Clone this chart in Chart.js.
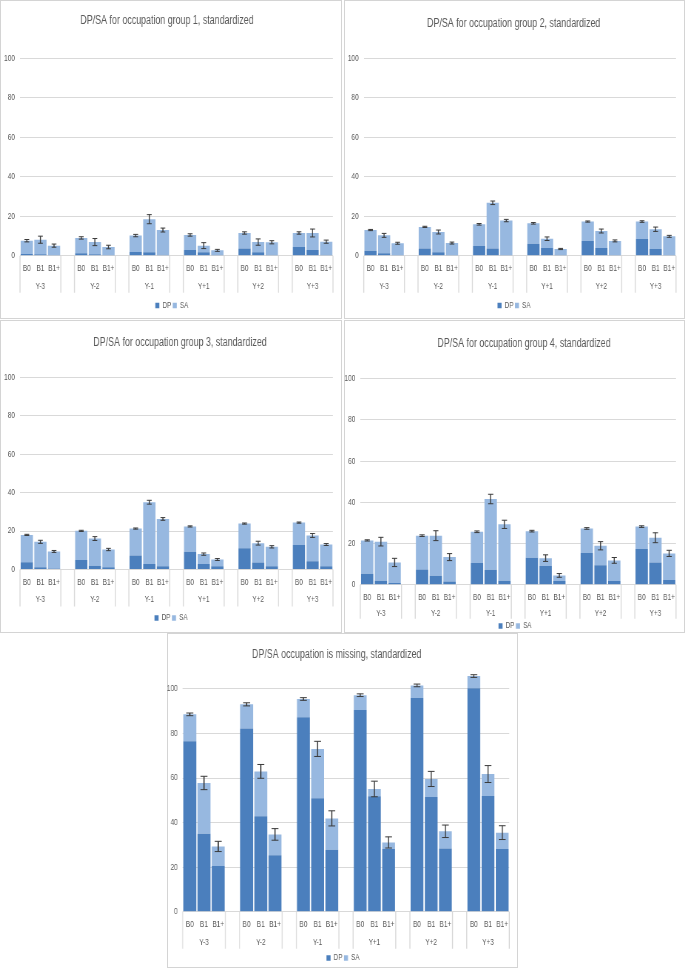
<!DOCTYPE html>
<html><head><meta charset="utf-8">
<script src="https://cdn.jsdelivr.net/npm/chart.js@4.4.0/dist/chart.umd.min.js"></script>
<style>
html,body{margin:0;padding:0;background:#fff;}
body{width:685px;height:968px;position:relative;overflow:hidden;}
.frame{position:absolute;box-sizing:border-box;border:1px solid #d4d4d4;background:#fff;}
canvas{position:absolute;transform-origin:0 0;}
</style></head><body>
<script>
// ---- categories / labels ----
const years = ['Y-3','Y-2','Y-1','Y+1','Y+2','Y+3'];
const bars = ['B0','B1','B1+'];
const seriesNames = ['DP','SA'];
const yTicks = [0,20,40,60,80,100];
const titles = [
  'DP/SA for occupation group 1, standardized',
  'DP/SA for occupation group 2, standardized',
  'DP/SA for occupation group 3, standardized',
  'DP/SA for occupation group 4, standardized',
  'DP/SA occupation is missing, standardized'
];

// ---- values (order: Y-3 B0,B1,B1+, Y-2 B0,B1,B1+, ...) ----
const g1DP  = [0.8,0.7,0.3, 1.2,0.7,0.3, 1.9,1.7,0.5, 2.9,1.7,0.5, 3.6,1.7,0.5, 4.4,2.9,0.5];
const g1SA  = [6.8,7.4,4.8, 7.8,6.2,4.1, 8.3,16.8,12.5, 7.6,3.4,2.2, 7.9,5.2,6.3, 7.1,8.6,6.6];
const g1Err = [0.6,1.8,0.8, 0.6,1.8,0.9, 0.6,2.3,1.0, 0.6,1.5,0.5, 0.6,1.6,0.8, 0.6,2.0,0.8];

const g2DP  = [2.5,1.2,0.3, 3.6,1.7,0.3, 4.9,3.6,0.3, 6.1,3.9,0.5, 7.5,3.9,0.4, 8.5,3.4,0.4];
const g2SA  = [10.5,9.1,6.0, 11.0,10.3,6.1, 11.0,23.2,17.5, 10.3,4.7,2.9, 9.8,8.6,7.1, 8.8,10.0,9.4];
const g2Err = [0.3,1.0,0.5, 0.3,1.0,0.5, 0.4,0.9,0.6, 0.4,0.9,0.3, 0.3,1.0,0.5, 0.4,1.1,0.5];

const g3DP  = [3.8,1.2,0.5, 5.0,1.9,1.2, 7.3,2.9,1.7, 9.2,2.9,1.7, 11.1,3.6,1.7, 12.8,4.3,1.7];
const g3SA  = [14.2,13.2,8.9, 15.1,14.2,9.2, 14.0,32.1,24.6, 13.2,5.1,3.5, 12.8,10.1,10.1, 11.6,13.4,11.3];
const g3Err = [0.3,0.8,0.5, 0.3,1.0,0.6, 0.3,1.0,0.7, 0.3,0.6,0.5, 0.3,1.0,0.6, 0.3,1.0,0.5];

const g4DP  = [5.3,1.9,0.8, 7.4,4.4,1.5, 10.5,7.3,1.9, 13.1,9.1,1.8, 15.4,9.5,1.8, 17.3,10.8,2.3];
const g4SA  = [16.2,19.0,10.0, 16.4,19.4,11.9, 15.2,34.3,27.4, 12.9,3.8,2.7, 11.9,9.4,10.0, 10.9,12.0,12.9];
const g4Err = [0.3,2.1,2.0, 0.4,2.4,1.7, 0.4,2.3,2.0, 0.4,1.6,0.9, 0.4,2.0,1.4, 0.4,2.4,1.5];

const g5DP  = [76.5,35.0,20.5, 82.3,42.8,25.3, 87.3,50.9,27.8, 90.6,51.8,28.1, 96.0,51.5,28.4, 100.3,51.9,28.1];
const g5SA  = [12.1,22.8,8.8, 10.8,20.2,9.4, 8.2,22.2,14.1, 6.6,3.3,3.0, 5.6,8.1,7.7, 5.5,9.9,7.4];
const g5Err = [0.6,3.0,2.3, 0.7,3.1,2.6, 0.6,3.4,3.4, 0.6,3.5,2.5, 0.6,3.4,2.8, 0.6,3.8,3.1];

// ---- styling ----
const DP_COLOR = '#4b7fbd';
const SA_COLOR = '#97b8e0';
const TEXT = '#595959';
const GRID = '#d9d9d9';
const FONT = "'Liberation Sans', Arial, sans-serif";
const SQUEEZE = 0.74;

Chart.defaults.font.family = FONT;
Chart.defaults.color = TEXT;

// insert an empty slot between year groups
function slots(arr) {
  const out = [];
  for (let g = 0; g < years.length; g++) {
    if (g > 0) out.push(null);
    for (let b = 0; b < bars.length; b++) out.push(arr[g * bars.length + b]);
  }
  return out;
}
const slotLabels = slots(years.flatMap(() => bars)).map(v => v === null ? '' : v);

const panels = [
  {title: titles[0], dp: g1DP, sa: g1SA, err: g1Err, max: 100, x: 0,   y: 0,   w: 342, h: 319, L: 20,   R: 333,   T: 58.3, B: 255.7, tx: 167,   ty: 21,   lx: 171.8, ly: 305.5, gy: 30.5, sep: 37, cap: 2.4},
  {title: titles[1], dp: g2DP, sa: g2SA, err: g2Err, max: 100, x: 344, y: 0,   w: 341, h: 319, L: 19.7, R: 332,   T: 58.3, B: 255.7, tx: 169.7, ty: 24,   lx: 170,   ly: 305.5, gy: 30.5, sep: 37, cap: 2.4},
  {title: titles[2], dp: g3DP, sa: g3SA, err: g3Err, max: 100, x: 0,   y: 320, w: 342, h: 313, L: 20,   R: 333,   T: 57.3, B: 249.5, tx: 180,   ty: 23,   lx: 171,   ly: 298,   gy: 30.5, sep: 37, cap: 2.4},
  {title: titles[3], dp: g4DP, sa: g4SA, err: g4Err, max: 100, x: 344, y: 320, w: 341, h: 313, L: 16.3, R: 332,   T: 58.7, B: 264.7, tx: 180,   ty: 23.7, lx: 171,   ly: 306,   gy: 29,   sep: 34, cap: 2.6},
  {title: titles[4], dp: g5DP, sa: g5SA, err: g5Err, max: 110, x: 167, y: 633, w: 351, h: 335, L: 15.7, R: 342.3, T: 33.7, B: 278.7, tx: 169.7, ty: 22,   lx: 176,   ly: 325,   gy: 31,   sep: 37, cap: 3.4}
];

panels.forEach((p, idx) => {
  const frame = document.createElement('div');
  frame.className = 'frame';
  frame.style.left = p.x + 'px'; frame.style.top = p.y + 'px';
  frame.style.width = p.w + 'px'; frame.style.height = p.h + 'px';
  document.body.appendChild(frame);

  const cw = Math.round(p.w / SQUEEZE);
  const s = p.w / cw;
  const cv = document.createElement('canvas');
  cv.width = cw; cv.height = p.h;
  cv.style.left = p.x + 'px'; cv.style.top = p.y + 'px';
  cv.style.width = cw + 'px'; cv.style.height = p.h + 'px';
  cv.style.transform = 'scaleX(' + s + ')';
  document.body.appendChild(cv);

  const LEG_H = 12, LEG_PAD = 2, LEG_FONT = 8.5;

  const deco = {
    id: 'deco' + idx,
    afterLayout(chart) {
      const tb = chart.titleBlock;
      if (tb) {
        const tw = tb.right - tb.left, th = tb.bottom - tb.top;
        tb.left = p.tx / s - tw / 2; tb.right = tb.left + tw;
        tb.top = p.ty - 7.2; tb.bottom = tb.top + th;
      }
      const lg = chart.legend;
      if (lg) {
        const lw = lg.right - lg.left;
        lg.left = p.lx / s - lw / 2; lg.right = lg.left + lw;
        lg.top = p.ly - LEG_PAD - LEG_FONT / 2; lg.bottom = lg.top + LEG_H;
      }
    },
    afterDatasetsDraw(chart) {
      const ctx = chart.ctx, xs = chart.scales.x, ys = chart.scales.y;
      const dpS = slots(p.dp), saS = slots(p.sa), erS = slots(p.err);
      ctx.save();
      ctx.strokeStyle = '#3a3a3a';
      for (let i = 0; i < dpS.length; i++) {
        if (dpS[i] === null) continue;
        const tot = dpS[i] + saS[i];
        const x = xs.getPixelForValue(i);
        const yHi = ys.getPixelForValue(tot + erS[i]);
        const yLo = ys.getPixelForValue(tot - erS[i]);
        const c = p.cap / s;
        ctx.lineWidth = 1.4;
        ctx.beginPath(); ctx.moveTo(x, yHi); ctx.lineTo(x, yLo); ctx.stroke();
        ctx.lineWidth = 1;
        ctx.beginPath();
        ctx.moveTo(x - c, yHi); ctx.lineTo(x + c, yHi);
        ctx.moveTo(x - c, yLo); ctx.lineTo(x + c, yLo);
        ctx.stroke();
      }
      ctx.restore();
    },
    afterDraw(chart) {
      const ctx = chart.ctx, xs = chart.scales.x;
      const bottom = chart.chartArea.bottom;
      const half = (xs.getPixelForValue(1) - xs.getPixelForValue(0)) / 2;
      ctx.save();
      ctx.strokeStyle = GRID; ctx.lineWidth = 1.4;
      ctx.fillStyle = TEXT;
      ctx.font = '8.5px ' + FONT;
      ctx.textAlign = 'center'; ctx.textBaseline = 'middle';
      years.forEach((yr, g) => {
        const first = g * (bars.length + 1), last = first + bars.length - 1;
        const xl = xs.getPixelForValue(first) - half;
        const xr = xs.getPixelForValue(last) + half;
        ctx.beginPath();
        ctx.moveTo(xl, bottom); ctx.lineTo(xl, bottom + p.sep);
        ctx.moveTo(xr, bottom); ctx.lineTo(xr, bottom + p.sep);
        ctx.stroke();
        ctx.fillText(yr, xs.getPixelForValue(first + 1), bottom + p.gy);
      });
      ctx.restore();
    }
  };

  new Chart(cv, {
    type: 'bar',
    data: {
      labels: slotLabels,
      datasets: [
        {label: seriesNames[0], data: slots(p.dp), backgroundColor: DP_COLOR, borderWidth: 0},
        {label: seriesNames[1], data: slots(p.sa), backgroundColor: SA_COLOR, borderWidth: 0}
      ]
    },
    options: {
      responsive: false,
      animation: false,
      devicePixelRatio: 1,
      events: [],
      layout: {padding: {left: 0, right: (p.w - p.R) / s, top: 0, bottom: 0}},
      datasets: {bar: {categoryPercentage: 1, barPercentage: 0.9}},
      plugins: {
        title: {
          display: true, text: p.title, color: TEXT,
          font: {size: 12, weight: 'normal', family: FONT, lineHeight: 1.2},
          padding: {top: 0, bottom: p.T - 14.4}
        },
        legend: {
          display: true, position: 'bottom', maxHeight: LEG_H,
          labels: {
            boxWidth: 5.5, boxHeight: 5.5, padding: LEG_PAD, color: TEXT,
            font: {size: LEG_FONT, family: FONT},
            generateLabels: (chart) => Chart.defaults.plugins.legend.labels.generateLabels(chart).map(l => Object.assign(l, {lineWidth: 0}))
          }
        },
        tooltip: {enabled: false}
      },
      scales: {
        x: {
          stacked: true,
          grid: {display: false, drawTicks: false},
          border: {display: false},
          ticks: {autoSkip: false, maxRotation: 0, minRotation: 0, padding: 7.9, color: TEXT, font: {size: 8.8, family: FONT}},
          afterFit: (scale) => { scale.height = p.h - LEG_H - p.B; }
        },
        y: {
          stacked: true,
          min: 0, max: p.max,
          grid: {color: GRID, lineWidth: 1, drawTicks: false},
          border: {display: false},
          ticks: {stepSize: 20, padding: 5 / s, color: TEXT, font: {size: 8.8, family: FONT}},
          afterBuildTicks: (scale) => { scale.ticks = yTicks.map(v => ({value: v})); },
          afterFit: (scale) => { scale.width = p.L / s; }
        }
      }
    },
    plugins: [deco]
  });
});
</script>
</body></html>
